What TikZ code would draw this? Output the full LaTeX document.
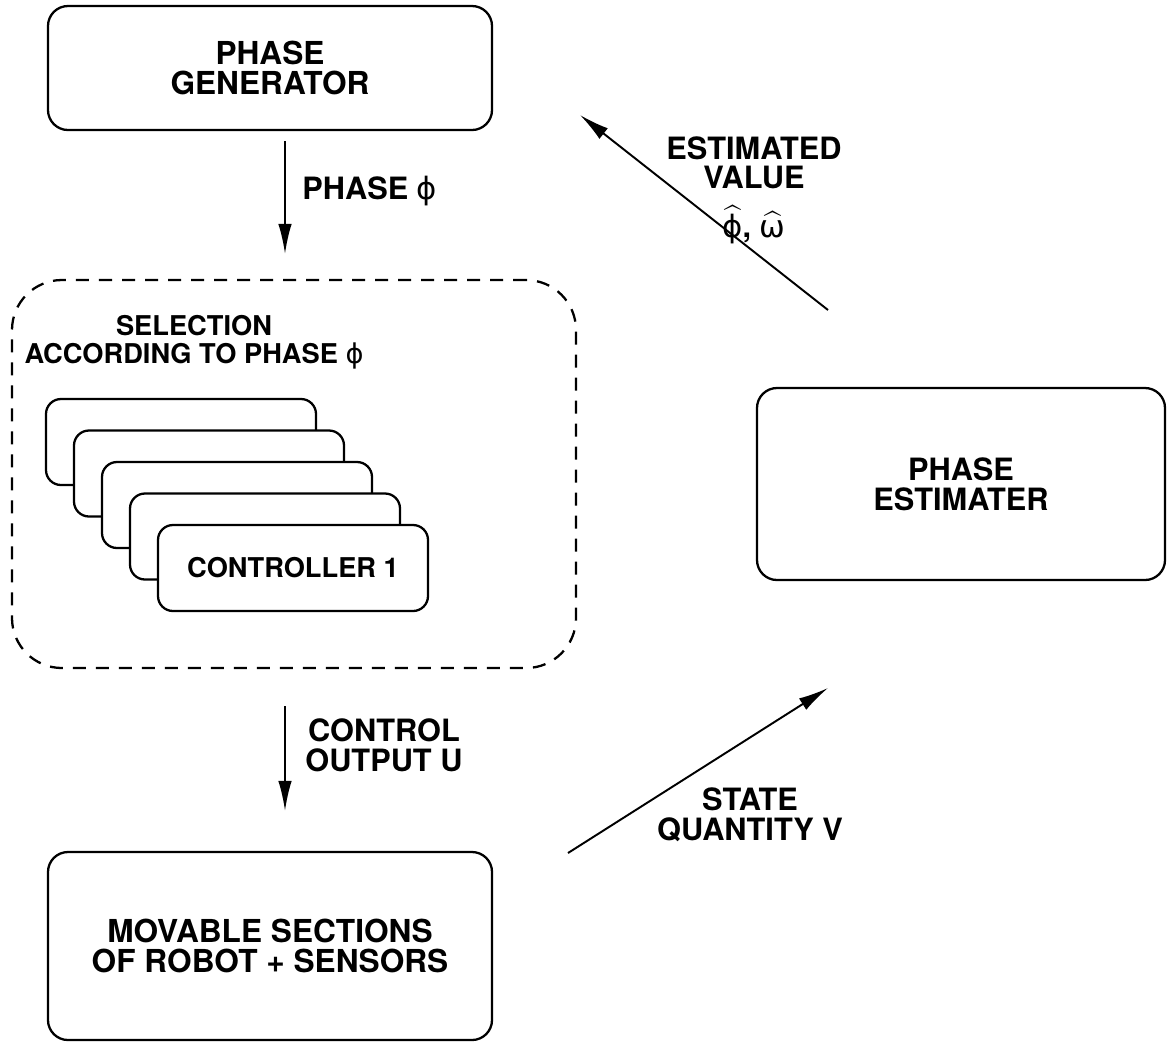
\documentclass[tikz,border=0pt]{standalone}
\usepackage{amsmath}
\usepackage{fontspec}
\setmainfont{TeX Gyre Heros}
\newfontfamily\grkfont{DejaVu Sans}
\newcommand{\uphi}{\text{\mdseries\grkfont ϕ}}
\newcommand{\uomega}{\text{\mdseries\grkfont ω}}
\usetikzlibrary{arrows.meta,positioning}

\begin{document}
\begin{tikzpicture}[x=0.2mm,y=-0.2mm,
  every node/.style={font=\fontsize{17.5}{17}\selectfont\bfseries,inner sep=0pt},
  box/.style={draw,line width=1.3pt,rounded corners=4mm,align=center},
  ctrlbox/.style={box,fill=white,rounded corners=3mm,minimum width=54mm,minimum height=17.2mm},
  lbl/.style={align=center},
  flow/.style={line width=1.1pt,-{Latex[length=6mm,width=2.7mm]}}]
\useasboundingbox (0,0) rectangle (1168,1047);
\node[box,minimum width=88.8mm,minimum height=24.8mm,font=\fontsize{18}{17}\selectfont\bfseries] (gen) at (270,68) {PHASE\\GENERATOR};
\node[box,dashed,dash pattern=on 2.6mm off 2mm,rounded corners=10mm,minimum width=112.8mm,minimum height=77.6mm] (sel) at (294,474) {};
\node[lbl,font=\fontsize{15.5}{16}\selectfont\bfseries] (seltxt) at (194,342) {SELECTION\\ACCORDING TO PHASE $\uphi$};
\foreach \k in {5,4,3,2}
  \node[ctrlbox] (ctrl\k) at ({181+28*(5-\k)},{442+31.5*(5-\k)}) {};
\node[ctrlbox,font=\fontsize{15.5}{15}\selectfont\bfseries] (ctrl1) at (293,568) {CONTROLLER 1};
\node[box,minimum width=88.8mm,minimum height=37.6mm,font=\fontsize{18}{17}\selectfont\bfseries] (robot) at (270,946) {MOVABLE SECTIONS\\OF ROBOT + SENSORS};
\node[box,minimum width=81.6mm,minimum height=38.4mm] (est) at (961,484) {PHASE\\ESTIMATER};
\coordinate (ax) at (285,0);
\coordinate (estA) at (828,310);
\coordinate (estB) at (580,115);
\coordinate (stA) at (568,853);
\coordinate (stB) at (828,688);
\draw[flow,shorten <=2mm,shorten >=5mm] (gen.south -| ax) -- (sel.north -| ax);
\draw[flow,shorten <=7.4mm,shorten >=8mm] (sel.south -| ax) -- (robot.north -| ax);
\draw[flow] (estA) -- (estB);
\draw[flow] (stA) -- (stB);
\node[anchor=west] (phlbl) at (302,191) {PHASE $\uphi$};
\node[lbl,anchor=west] (ctlbl) at (305,745) {CONTROL\\OUTPUT U};
\node[lbl] (estlbl) at (754,190) {ESTIMATED\\VALUE\\[8pt]$\widehat{\uphi}$, $\widehat{\uomega}$};
\node[lbl] (stlbl) at (750,815) {STATE\\QUANTITY V};
\end{tikzpicture}
\end{document}
